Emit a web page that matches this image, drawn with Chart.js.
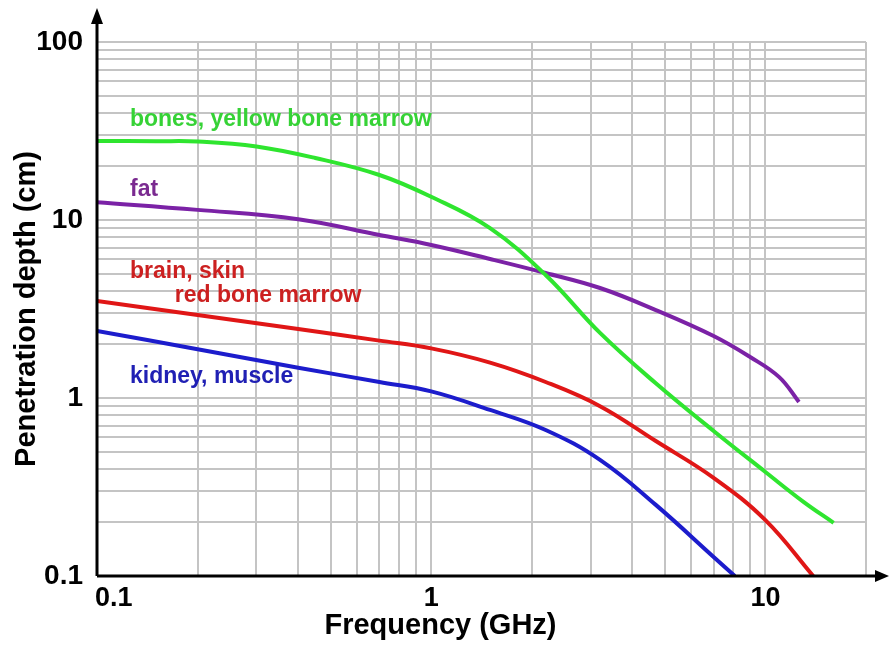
<!DOCTYPE html>
<html>
<head>
<meta charset="utf-8">
<style>
  html, body { margin: 0; padding: 0; background: #fff; }
</style>
<script src="https://cdn.jsdelivr.net/npm/chart.js@4.4.1/dist/chart.umd.min.js"></script>
</head>
<body>
<canvas id="myChart" width="889" height="650"></canvas>
<script>
// values (frequency in GHz, depth in cm)
const bonesFreq = [0.1, 0.15, 0.2, 0.3, 0.45, 0.7, 1.0, 1.5, 2.2, 3.2, 4.7, 7, 10, 13, 16]
const bonesDepth = [27.8, 27.7, 27.6, 25.9, 22.3, 17.9, 13.5, 9.0, 4.91, 2.32, 1.21, 0.653, 0.384, 0.261, 0.199]

const fatFreq = [0.1, 0.2, 0.4, 0.7, 1.0, 1.5, 2.2, 3.2, 4.7, 7, 9, 11, 12.6]
const fatDepth = [12.6, 11.4, 10.1, 8.24, 7.24, 6.04, 5.04, 4.15, 3.12, 2.23, 1.7, 1.31, 0.95]

const brainFreq = [0.1, 0.2, 0.4, 0.7, 1.0, 1.5, 2.2, 3.2, 4.7, 7, 10, 13.9]
const brainDepth = [3.51, 2.93, 2.44, 2.1, 1.9, 1.58, 1.23, 0.9, 0.573, 0.356, 0.206, 0.1]

const kidneyFreq = [0.1, 0.2, 0.4, 0.7, 1.0, 1.5, 2.2, 3.2, 4.7, 7, 8.1]
const kidneyDepth = [2.38, 1.88, 1.48, 1.23, 1.09, 0.857, 0.661, 0.449, 0.251, 0.128, 0.1]

const xGridValues = [0.1, 0.2, 0.3, 0.4, 0.5, 0.6, 0.7, 0.8, 0.9, 1, 2, 3, 4, 5, 6, 7, 8, 9, 10, 20]
const yGridValues = [0.1, 0.2, 0.3, 0.4, 0.5, 0.6, 0.7, 0.8, 0.9, 1, 2, 3, 4, 5, 6, 7, 8, 9,
  10, 20, 30, 40, 50, 60, 70, 80, 90, 100]
const xTickValues = [0.1, 1, 10]
const xTickLabels = ['0.1', '1', '10']
const yTickValues = [0.1, 1, 10, 100]
const yTickLabels = ['0.1', '1', '10', '100']

const seriesNames = ['bones, yellow bone marrow', 'fat', 'brain, skin / red bone marrow', 'kidney, muscle']

const pairs = (xs, ys) => xs.map((v, i) => ({ x: v, y: ys[i] }))

Chart.defaults.font.family = '"Liberation Sans", Arial, sans-serif'
Chart.defaults.color = '#000'

const gridStyle = { color: '#c4c4c4', lineWidth: 2, drawTicks: false }

// axes with arrows, x tick labels, x title and the labels next to the curves
const overlay = {
  id: 'overlay',
  afterDatasetsDraw(chart, args, opts) {
    const { ctx, chartArea: a, scales: { x, y } } = chart
    ctx.save()

    ctx.strokeStyle = '#000'
    ctx.fillStyle = '#000'
    ctx.lineWidth = 3
    ctx.beginPath()
    ctx.moveTo(a.left, a.bottom)
    ctx.lineTo(a.left, 22)
    ctx.moveTo(a.left, a.bottom)
    ctx.lineTo(878, a.bottom)
    ctx.stroke()

    ctx.beginPath()
    ctx.moveTo(a.left, 8)
    ctx.lineTo(a.left - 6, 24)
    ctx.lineTo(a.left + 6, 24)
    ctx.closePath()
    ctx.fill()
    ctx.beginPath()
    ctx.moveTo(889, a.bottom)
    ctx.lineTo(875, a.bottom - 6)
    ctx.lineTo(875, a.bottom + 6)
    ctx.closePath()
    ctx.fill()

    ctx.font = 'bold 27px "Liberation Sans", Arial, sans-serif'
    ctx.textBaseline = 'middle'
    xTickValues.forEach((v, i) => {
      const px = x.getPixelForValue(v)
      ctx.textAlign = i === 0 ? 'left' : 'center'
      ctx.fillText(xTickLabels[i], i === 0 ? px - 2 : px, a.bottom + 23)
    })

    ctx.font = 'bold 29px "Liberation Sans", Arial, sans-serif'
    ctx.textAlign = 'center'
    ctx.fillText('Frequency (GHz)', (a.left + a.right) / 2 - 41, a.bottom + 50)

    ctx.font = 'bold 23px "Liberation Sans", Arial, sans-serif'
    ctx.textAlign = 'left'
    opts.labels.forEach(l => {
      ctx.fillStyle = l.color
      ctx.fillText(l.text, x.getPixelForValue(l.at[0]), y.getPixelForValue(l.at[1]))
    })

    ctx.restore()
  }
}

const data = {
  datasets: [
    { label: seriesNames[0], data: pairs(bonesFreq, bonesDepth), borderColor: '#2fe52f' },
    { label: seriesNames[1], data: pairs(fatFreq, fatDepth), borderColor: '#7b22a6' },
    { label: seriesNames[2], data: pairs(brainFreq, brainDepth), borderColor: '#e01616' },
    { label: seriesNames[3], data: pairs(kidneyFreq, kidneyDepth), borderColor: '#1c1ccc' },
  ]
}

const config = {
  type: 'line',
  data: data,
  options: {
    responsive: false,
    animation: false,
    layout: { padding: { left: 0, top: 42, right: 23, bottom: 0 } },
    elements: {
      line: { borderWidth: 4, tension: 0.4, fill: false },
      point: { radius: 0, hoverRadius: 0 }
    },
    plugins: {
      legend: { display: false },
      tooltip: { enabled: false },
      overlay: {
        labels: [
          { text: 'bones, yellow bone marrow', color: '#36d236', at: [0.1255, 36.5] },
          { text: 'fat', color: '#7a2a90', at: [0.1255, 14.8] },
          { text: 'brain, skin', color: '#cc2020', at: [0.1255, 5.1] },
          { text: 'red bone marrow', color: '#cc2020', at: [0.171, 3.74] },
          { text: 'kidney, muscle', color: '#2020b4', at: [0.1255, 1.31] },
        ]
      }
    },
    scales: {
      x: {
        type: 'logarithmic',
        min: 0.1,
        max: 20,
        grid: gridStyle,
        border: { display: false },
        ticks: { display: false },
        afterBuildTicks: s => { s.ticks = xGridValues.map(v => ({ value: v })) },
        afterFit: s => { s.height = 74 }
      },
      y: {
        type: 'logarithmic',
        min: 0.1,
        max: 100,
        grid: gridStyle,
        border: { display: false },
        ticks: {
          autoSkip: false,
          padding: 14,
          font: { size: 28, weight: 'bold' },
          callback: (v) => {
            const i = yTickValues.indexOf(v)
            return i >= 0 ? yTickLabels[i] : ''
          }
        },
        title: {
          display: true,
          text: 'Penetration depth (cm)',
          font: { size: 29, weight: 'bold' },
          padding: { top: 10, bottom: 0 }
        },
        afterBuildTicks: s => { s.ticks = yGridValues.map(v => ({ value: v })) },
        afterFit: s => { s.width = 97 }
      }
    }
  },
  plugins: [overlay]
}

const myChart = new Chart(document.getElementById('myChart'), config)
</script>
</body>
</html>
